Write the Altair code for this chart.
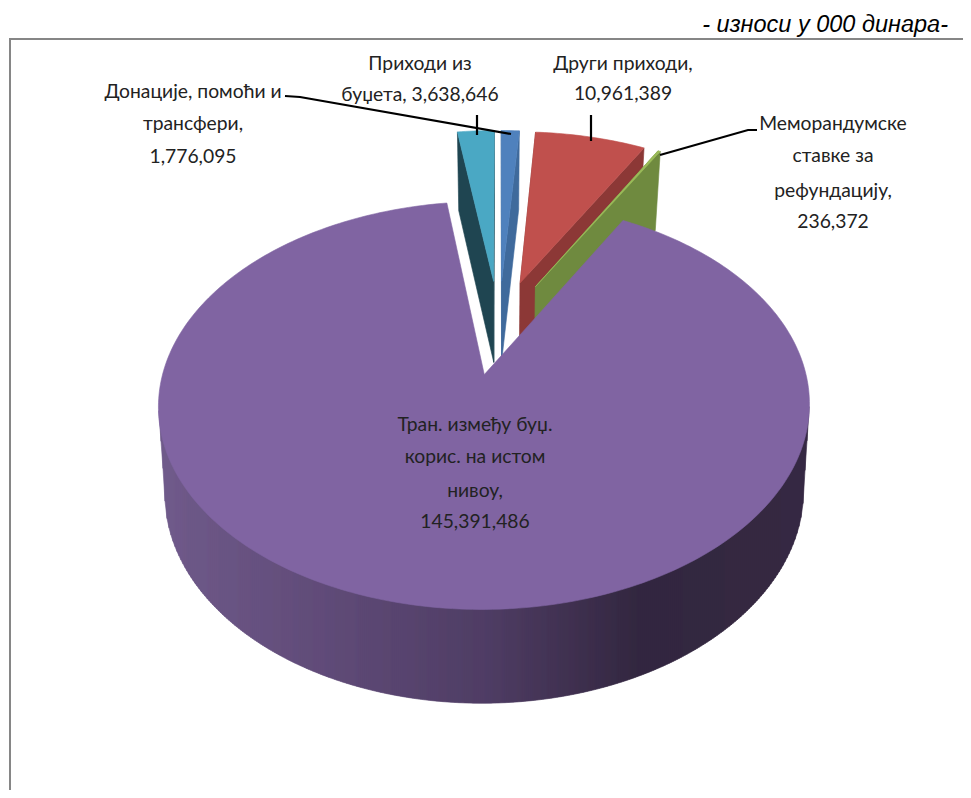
import math
import altair as alt

# ---- chart data -------------------------------------------------------
slice_names = ["Приходи из буџета", "Донације, помоћи и трансфери", "Други приходи",
               "Меморандумске ставке за рефундацију", "Тран. између буџ. корис. на истом нивоу"]
slice_values = [3638646, 1776095, 10961389, 236372, 145391486]
top_colors = ["#4aa8c4", "#4f81bd", "#c0504d", "#9bbb59", "#8064a2"]
wall_colors = ["#1f4551", "#3f6a9c", "#8c3836", "#6f8a3f", "#4e3c62"]
label_lines = [
    ["Приходи из", "буџета, 3,638,646"],
    ["Донације, помоћи и", "трансфери,", "1,776,095"],
    ["Други приходи,", "10,961,389"],
    ["Меморандумске", "ставке за", "рефундацију,", "236,372"],
    ["Тран. између буџ.", "корис. на истом", "нивоу,", "145,391,486"],
]
unit_note = "- износи у 000 динара-"

# ---- 3-D pie projection (layout constants) -------------------------------
CX, EXPLODE = 499.0, 0.254
TOP = dict(a=310.0, b=185.0, y0=326.6, k=0.146)
BOT = dict(a=303.0, b=190.0, y0=408.7, k=0.155)


def project(u, v, plane):
    w = 1 + plane["k"] * v
    return [CX + plane["a"] * u / w, plane["y0"] - plane["b"] * v / w]


total = sum(slice_values)
sweeps = [360.0 * v / total for v in slice_values]
start = -sweeps[0]
spans = []
for s in sweeps:
    spans.append((start, start + s))
    start += s


def disc(theta, mid, r=1.0):
    t, m = math.radians(theta), math.radians(mid)
    return (r * math.sin(t) + EXPLODE * math.sin(m), r * math.cos(t) + EXPLODE * math.cos(m))


def poly(points, fill):
    ring = points + [points[0]]
    return {"type": "Feature", "properties": {"fill": fill},
            "geometry": {"type": "Polygon", "coordinates": [ring]}}


def arc_angles(a0, a1, step=1.0):
    n = max(2, int(abs(a1 - a0) / step) + 1)
    return [a0 + (a1 - a0) * i / n for i in range(n + 1)]


def lerp_color(x):
    stops = [(160, (0x70, 0x5b, 0x8b)), (340, (0x5f, 0x4a, 0x77)), (490, (0x4f, 0x3d, 0x64)),
             (640, (0x33, 0x27, 0x40)), (810, (0x36, 0x29, 0x43))]
    for (x0, c0), (x1, c1) in zip(stops, stops[1:]):
        if x <= x1:
            f = max(0.0, (x - x0) / (x1 - x0))
            return "#%02x%02x%02x" % tuple(round(p + (q - p) * f) for p, q in zip(c0, c1))
    return "#362943"


def interp(curve, x):
    for (x0, y0), (x1, y1) in zip(curve, curve[1:]):
        if x0 <= x <= x1:
            f = 0 if x1 == x0 else (x - x0) / (x1 - x0)
            return y0 + (y1 - y0) * f
    return curve[0][1] if x < curve[0][0] else curve[-1][1]


def front_arc(ring):
    """Part of a ring between its right-most and left-most points, through the front, left to right."""
    r = max(range(len(ring)), key=lambda i: ring[i][0])
    l = min(range(len(ring)), key=lambda i: ring[i][0])
    return [ring[i] for i in range(l, r - 1, -1)]


features = []
# the four exploded small slices
for i in range(4):
    a0, a1 = spans[i]
    mid = (a0 + a1) / 2
    apex = (EXPLODE * math.sin(math.radians(mid)), EXPLODE * math.cos(math.radians(mid)))
    for edge in (a0, a1):
        o = disc(edge, mid)
        features.append(poly([project(*apex, TOP), project(*o, TOP), project(*o, BOT), project(*apex, BOT)],
                             wall_colors[i]))
    arc = [project(*disc(t, mid), TOP) for t in arc_angles(a0, a1)]
    features.append(poly([project(*apex, TOP)] + arc, top_colors[i]))

# large slice: shaded outer wall in vertical strips, then top face
a0, a1 = spans[4]
mid = (a0 + a1) / 2
sweep = [t * 0.5 for t in range(0, 720)]
top_ring = [project(*disc(t, mid), TOP) for t in sweep]
bot_ring = [project(*disc(t, mid), BOT) for t in sweep]
upper = front_arc(top_ring)
lower = [upper[0]] + front_arc(bot_ring) + [upper[-1]]
xl, xr = int(upper[0][0]) + 1, int(upper[-1][0])
for x in range(xl, xr, 2):
    x2 = min(x + 2, xr)
    features.append(poly([[x, interp(upper, x) - 8], [x2, interp(upper, x2) - 8],
                          [x2, interp(lower, x2)], [x, interp(lower, x)]], lerp_color(x + 1)))
apex = (EXPLODE * math.sin(math.radians(mid)), EXPLODE * math.cos(math.radians(mid)))
arc = [project(*disc(t, mid), TOP) for t in arc_angles(a0, a1)]
features.append(poly([project(*apex, TOP)] + arc, top_colors[4]))

proj = alt.Projection(type="identity", scale=1, translate=[-8, -8])

pie = alt.Chart(alt.Data(values=features)).mark_geoshape(strokeWidth=0.6).encode(
    fill=alt.Fill("properties.fill:N", scale=None),
    stroke=alt.Stroke("properties.fill:N", scale=None),
).project(**proj.to_dict())


# ---- leader lines and frame --------------------------------------------
def line(points):
    return {"type": "Feature", "properties": {},
            "geometry": {"type": "LineString", "coordinates": points}}


leaders = [
    line([[285, 96], [300, 97], [511, 134]]),
    line([[477, 115], [477, 135]]),
    line([[591, 115], [591, 141]]),
    line([[660, 155], [748, 130], [757, 130]]),
]
leader_layer = alt.Chart(alt.Data(values=leaders)).mark_geoshape(
    filled=False, stroke="#000000", strokeWidth=2.2).project(**proj.to_dict())

frame = [line([[10, 798], [10, 39], [971, 39]])]
frame_layer = alt.Chart(alt.Data(values=frame)).mark_geoshape(
    filled=False, stroke="#868686", strokeWidth=2).project(**proj.to_dict())

# ---- labels ---------------------------------------------------------------
label_centres = [(420, [64, 95]), (193, [92, 124, 157]), (623, [64, 94]),
                 (833, [124, 156, 191, 222]), (475, [425, 457, 491, 522])]
rows = []
for lines, (cx, ys) in zip(label_lines, label_centres):
    for txt, y in zip(lines, ys):
        rows.append({"t": txt, "x": cx - 8, "y": y - 8})

labels = alt.Chart(alt.Data(values=rows)).mark_text(
    font="Lato", fontSize=19.3, color="#222222", align="center", baseline="middle"
).encode(
    x=alt.X("x:Q", scale=None), y=alt.Y("y:Q", scale=None), text="t:N"
)

note = alt.Chart(alt.Data(values=[{"t": unit_note, "x": 948 - 8, "y": 25 - 8}])).mark_text(
    font="Liberation Sans", fontStyle="italic", fontSize=23.5, color="#000000", align="right", baseline="middle"
).encode(
    x=alt.X("x:Q", scale=None), y=alt.Y("y:Q", scale=None), text="t:N"
)

chart = alt.layer(frame_layer, pie, leader_layer, labels, note).properties(
    width=955, height=782, padding=0, autosize=alt.AutoSizeParams(type="none"), background="#ffffff"
).configure_view(stroke=None)

chart.save("out.html", embed_options={"renderer": "svg", "actions": False})
